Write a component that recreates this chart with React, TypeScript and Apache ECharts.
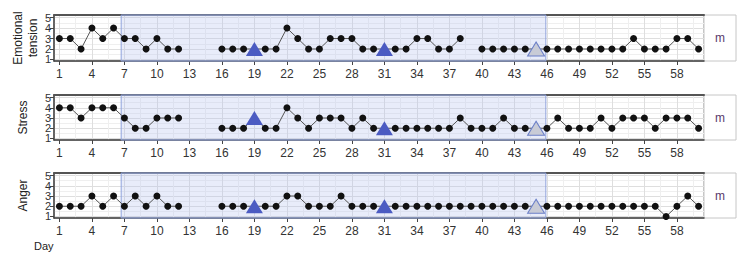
import React, { useEffect, useRef } from "react";
import * as echarts from "echarts";

// Days 1..60
const days: number[] = [
  1, 2, 3, 4, 5, 6, 7, 8, 9, 10, 11, 12, 13, 14, 15, 16, 17, 18, 19, 20,
  21, 22, 23, 24, 25, 26, 27, 28, 29, 30, 31, 32, 33, 34, 35, 36, 37, 38, 39, 40,
  41, 42, 43, 44, 45, 46, 47, 48, 49, 50, 51, 52, 53, 54, 55, 56, 57, 58, 59, 60,
];

const emotionalTension: (number | null)[] = [
  3, 3, 2, 4, 3, 4, 3, 3, 2, 3, 2, 2, null, null, null, 2, 2, 2, 2, 2,
  2, 4, 3, 2, 2, 3, 3, 3, 2, 2, 2, 2, 2, 3, 3, 2, 2, 3, null, 2,
  2, 2, 2, 2, 2, 2, 2, 2, 2, 2, 2, 2, 2, 3, 2, 2, 2, 3, 3, 2,
];
const stress: (number | null)[] = [
  4, 4, 3, 4, 4, 4, 3, 2, 2, 3, 3, 3, null, null, null, 2, 2, 2, 3, 2,
  2, 4, 3, 2, 3, 3, 3, 2, 3, 2, 2, 2, 2, 2, 2, 2, 2, 3, 2, 2,
  2, 3, 2, 2, 2, 2, 3, 2, 2, 2, 3, 2, 3, 3, 3, 2, 3, 3, 3, 2,
];
const anger: (number | null)[] = [
  2, 2, 2, 3, 2, 3, 2, 3, 2, 3, 2, 2, null, null, null, 2, 2, 2, 2, 2,
  2, 3, 3, 2, 2, 2, 3, 2, 2, 2, 2, 2, 2, 2, 2, 2, 2, 2, 2, 2,
  2, 2, 2, 2, 2, 2, 2, 2, 2, 2, 2, 2, 2, 2, 2, 2, 1, 2, 3, 2,
];

const panelNames = ["Emotional\ntension", "Stress", "Anger"];
const panelValues = [emotionalTension, stress, anger];
const stripLabel = "m";

const eventDays = [19, 31]; // blue triangles
const phaseEndDays = [45]; // grey triangle
const phaseStart = 6.7;
const phaseEnd = 45.9;

const xTicks = [1, 4, 7, 10, 13, 16, 19, 22, 25, 28, 31, 34, 37, 40, 43, 46, 49, 52, 55, 58];
const yTicks = [1, 2, 3, 4, 5];

const GRID_LEFT = 54;
const GRID_RIGHT = 35;
const gridTops = [15, 95, 173];
const gridHeights = [46, 45, 45];
const nameGaps = [14, 24, 24];

const FONT = "Liberation Sans, Arial, sans-serif";

export default function App() {
  const ref = useRef<HTMLDivElement>(null);

  useEffect(() => {
    document.body.style.margin = "0";
    if (!ref.current) return;
    const chart = echarts.init(ref.current, null, { renderer: "svg" });

    const xMin = days[0] - 0.5;
    const xMax = days[days.length - 1] + 0.5;
    // minor grid lines halfway between the labelled ticks
    const xMinor = [xTicks[0] - 1.5, ...xTicks.map((t) => t + 1.5)];
    const yMinor = yTicks.slice(0, -1).map((t) => t + 0.5);
    // y labels split over two co-located axes so none gets auto-hidden
    const yTicksA = yTicks.filter((_, k) => k % 2 === 0);
    const yTicksB = yTicks.filter((_, k) => k % 2 === 1);

    const grids = gridTops.map((top, i) => ({
      left: GRID_LEFT,
      right: GRID_RIGHT,
      top,
      height: gridHeights[i],
      show: true,
      backgroundColor: "#ffffff",
      borderColor: "#8a8a8a",
      borderWidth: 1,
      outerBoundsMode: "none",
    }));

    const bottomAxes = gridTops.map((_, i) => ({
      type: "value",
      gridIndex: i,
      min: xMin,
      max: xMax,
      axisLine: { show: true, onZero: false, lineStyle: { color: "#444", width: 1.5 } },
      axisTick: { show: true, length: 4, customValues: xTicks, lineStyle: { color: "#444" } },
      axisLabel: {
        show: true,
        interval: 0,
        customValues: xTicks,
        showMinLabel: true,
        showMaxLabel: true,
        color: "#333",
        fontSize: 12,
        fontFamily: FONT,
        margin: 7,
      },
      splitLine: { show: true, lineStyle: { color: "#dedede", width: 1 } },
    }));

    const topAxes = gridTops.map((_, i) => ({
      type: "value",
      gridIndex: i,
      position: "top",
      min: xMin,
      max: xMax,
      axisLine: { show: true, onZero: false, lineStyle: { color: "#555", width: 2 } },
      axisTick: { show: false, customValues: xMinor },
      axisLabel: { show: false, customValues: xMinor },
      splitLine: { show: true, lineStyle: { color: "#efefef", width: 1 } },
    }));

    const yLabelStyle = {
      show: true,
      interval: 0,
      showMinLabel: true,
      showMaxLabel: true,
      hideOverlap: false,
      color: "#333",
      fontSize: 11,
      lineHeight: 10,
      fontFamily: FONT,
      margin: 3,
    };

    const leftAxes = gridTops.map((_, i) => ({
      type: "value",
      gridIndex: i,
      position: "left",
      min: 0.85,
      max: 5.25,
      name: panelNames[i],
      nameLocation: "middle",
      nameRotate: 90,
      nameGap: nameGaps[i],
      nameMoveOverlap: false,
      nameTextStyle: { color: "#222", fontSize: 12, fontFamily: FONT, lineHeight: 15 },
      axisLine: { show: true, onZero: false, lineStyle: { color: "#444", width: 1.5 } },
      axisTick: { show: true, length: 4, customValues: yTicks, lineStyle: { color: "#444" } },
      axisLabel: { ...yLabelStyle, customValues: yTicksA },
      splitLine: { show: true, lineStyle: { color: "#dedede" } },
    }));

    const leftAxesB = gridTops.map((_, i) => ({
      type: "value",
      gridIndex: i,
      position: "left",
      offset: 0,
      min: 0.85,
      max: 5.25,
      axisLine: { show: false, onZero: false },
      axisTick: { show: false, customValues: yTicksB },
      axisLabel: { ...yLabelStyle, customValues: yTicksB },
      splitLine: { show: false },
    }));

    const rightAxes = gridTops.map((_, i) => ({
      type: "value",
      gridIndex: i,
      position: "right",
      min: 0.85,
      max: 5.25,
      axisLine: { show: false },
      axisTick: { show: false, customValues: yMinor },
      axisLabel: { show: false, customValues: yMinor },
      splitLine: { show: true, lineStyle: { color: "#efefef" } },
    }));

    const series = panelValues.map((vals, i) => ({
      type: "line",
      xAxisIndex: i,
      yAxisIndex: i,
      symbol: "circle",
      symbolSize: 7,
      lineStyle: { color: "#555", width: 1 },
      itemStyle: { color: "#111" },
      z: 3,
      data: days.map((d, k) => {
        const v = vals[k];
        const value = [d, v === null ? "-" : v];
        if (eventDays.includes(d)) {
          return {
            value,
            symbol: "triangle",
            symbolSize: [17, 14],
            itemStyle: { color: "#4b5bc2" },
          };
        }
        if (phaseEndDays.includes(d)) {
          return {
            value,
            symbol: "triangle",
            symbolSize: [17, 14],
            itemStyle: { color: "#c8cbd6", borderColor: "#6b7fc8", borderWidth: 1 },
          };
        }
        return { value };
      }),
      markArea: {
        silent: true,
        itemStyle: {
          color: "rgba(182,196,240,0.32)",
          borderColor: "#8ea2dc",
          borderWidth: 1,
        },
        data: [[{ xAxis: phaseStart }, { xAxis: phaseEnd }]],
      },
    }));

    const graphics: any[] = [];
    gridTops.forEach((top, i) => {
      graphics.push({
        type: "rect",
        shape: { x: 739 - GRID_RIGHT, y: top, width: 32, height: gridHeights[i] },
        style: { fill: "#fff", stroke: "#c6c6c6", lineWidth: 1 },
      });
      graphics.push({
        type: "text",
        x: 739 - GRID_RIGHT + 16,
        y: top + gridHeights[i] / 2,
        style: {
          text: stripLabel,
          fill: "#5a3a6c",
          fontSize: 12,
          fontFamily: FONT,
          align: "center",
          verticalAlign: "middle",
        },
      });
    });
    graphics.push({
      type: "text",
      x: 34,
      y: 246,
      style: {
        text: "Day",
        fill: "#222",
        fontSize: 11,
        fontFamily: FONT,
        align: "left",
        verticalAlign: "middle",
      },
    });

    chart.setOption({
      animation: false,
      backgroundColor: "#ffffff",
      grid: grids,
      xAxis: [...bottomAxes, ...topAxes],
      yAxis: [...leftAxes, ...rightAxes, ...leftAxesB],
      series,
      graphic: graphics,
    } as any);

    return () => chart.dispose();
  }, []);

  return <div ref={ref} style={{ width: 739, height: 262 }} />;
}
